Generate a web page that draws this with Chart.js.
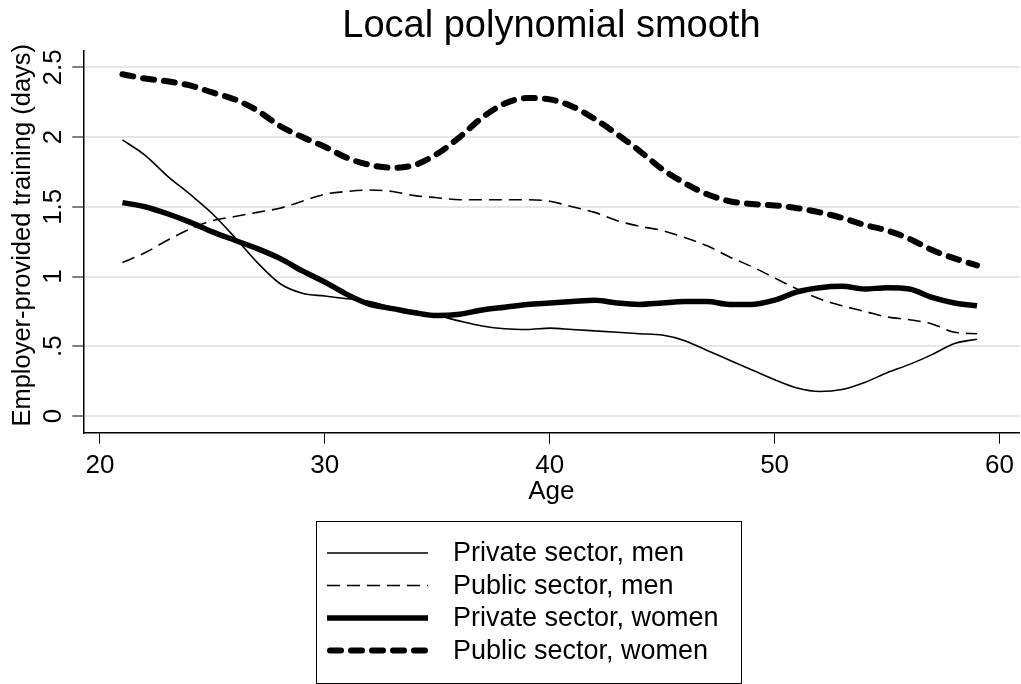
<!DOCTYPE html>
<html>
<head>
<meta charset="utf-8">
<title>Local polynomial smooth</title>
<script src="https://cdn.jsdelivr.net/npm/chart.js@4.4.1/dist/chart.umd.min.js"></script>
<style>
  html, body { margin: 0; padding: 0; background: #fff; }
  #wrap { width: 1021px; height: 684px; }
</style>
</head>
<body>
<div id="wrap"><canvas id="myChart" width="1021" height="684"></canvas></div>
<script>
// values, one per year of age
const ages = [21, 22, 23, 24, 25, 26, 27, 28, 29, 30, 31, 32, 33, 34, 35, 36, 37, 38, 39, 40,
              41, 42, 43, 44, 45, 46, 47, 48, 49, 50, 51, 52, 53, 54, 55, 56, 57, 58, 59];
const privateMen = [1.98, 1.87, 1.72, 1.59, 1.45, 1.28, 1.10, 0.95, 0.88, 0.86, 0.84, 0.82, 0.78, 0.75, 0.72, 0.68, 0.645, 0.625, 0.62, 0.63,
                    0.62, 0.61, 0.60, 0.59, 0.58, 0.54, 0.47, 0.40, 0.33, 0.26, 0.20, 0.175, 0.19, 0.24, 0.31, 0.37, 0.44, 0.52, 0.55];
const publicMen = [1.10, 1.17, 1.26, 1.34, 1.40, 1.43, 1.46, 1.49, 1.54, 1.59, 1.61, 1.62, 1.61, 1.58, 1.565, 1.55, 1.55, 1.55, 1.55, 1.54,
                   1.50, 1.46, 1.40, 1.36, 1.33, 1.28, 1.22, 1.14, 1.07, 0.99, 0.91, 0.84, 0.79, 0.75, 0.71, 0.69, 0.66, 0.60, 0.59];
const privateWomen = [1.53, 1.50, 1.45, 1.39, 1.32, 1.26, 1.20, 1.13, 1.04, 0.96, 0.87, 0.80, 0.77, 0.74, 0.72, 0.73, 0.76, 0.78, 0.80, 0.81,
                      0.82, 0.83, 0.81, 0.80, 0.81, 0.82, 0.82, 0.80, 0.80, 0.83, 0.89, 0.92, 0.93, 0.91, 0.92, 0.91, 0.85, 0.81, 0.79];
const publicWomen = [2.45, 2.42, 2.40, 2.37, 2.32, 2.27, 2.19, 2.08, 2.00, 1.93, 1.85, 1.80, 1.78, 1.80, 1.88, 2.00, 2.14, 2.24, 2.28, 2.27,
                     2.22, 2.13, 2.02, 1.90, 1.77, 1.67, 1.59, 1.54, 1.52, 1.51, 1.49, 1.46, 1.42, 1.37, 1.33, 1.27, 1.19, 1.13, 1.08];
const seriesNames = ['Private sector, men', 'Public sector, men', 'Private sector, women', 'Public sector, women'];
const xTicks = [20, 30, 40, 50, 60];
const yTicks = [0, 0.5, 1, 1.5, 2, 2.5];

const FONT = '"Liberation Sans", Arial, Helvetica, sans-serif';

function toPoints(vals) {
    return ages.map((a, i) => ({ x: a, y: vals[i] }));
}

// legend drawn as a framed box under the plot, one entry per row
const boxLegend = {
    id: 'boxLegend',
    afterDraw(chart) {
        const ctx = chart.ctx;
        const x0 = 316, y0 = 521, w = 425, h = 162;
        ctx.save();
        ctx.strokeStyle = '#000';
        ctx.lineWidth = 1;
        ctx.strokeRect(x0 + 0.5, y0 + 0.5, w, h);
        ctx.font = '27px ' + FONT;
        ctx.textBaseline = 'middle';
        ctx.textAlign = 'left';
        chart.data.datasets.forEach((ds, i) => {
            const y = y0 + 32 + i * 32.5;
            const round = ds.borderCapStyle === 'round';
            const inset = round ? ds.borderWidth / 2 : 0;
            ctx.beginPath();
            ctx.strokeStyle = ds.borderColor;
            ctx.lineWidth = ds.borderWidth;
            ctx.lineCap = ds.borderCapStyle || 'butt';
            ctx.setLineDash(ds.borderDash || []);
            ctx.moveTo(x0 + 11 + inset, y);
            ctx.lineTo(x0 + 112 - inset, y);
            ctx.stroke();
            ctx.setLineDash([]);
            ctx.fillStyle = '#000';
            ctx.fillText(ds.label, x0 + 137, y + 1);
        });
        ctx.restore();
    }
};

const ctx = document.getElementById('myChart').getContext('2d');
new Chart(ctx, {
    type: 'line',
    data: {
        datasets: [
            { label: seriesNames[0], data: toPoints(privateMen), borderColor: '#000', borderWidth: 1.6 },
            { label: seriesNames[1], data: toPoints(publicMen), borderColor: '#000', borderWidth: 1.6, borderDash: [13, 7] },
            { label: seriesNames[2], data: toPoints(privateWomen), borderColor: '#000', borderWidth: 5.5 },
            { label: seriesNames[3], data: toPoints(publicWomen), borderColor: '#000', borderWidth: 6,
              borderDash: [11, 10], borderCapStyle: 'round' }
        ]
    },
    options: {
        responsive: false,
        devicePixelRatio: 1,
        animation: false,
        layout: { padding: { top: 0, right: 0, bottom: 177, left: 0 } },
        elements: {
            point: { radius: 0 },
            line: { cubicInterpolationMode: 'monotone', fill: false }
        },
        plugins: {
            legend: { display: false },
            tooltip: { enabled: false },
            title: {
                display: true,
                text: 'Local polynomial smooth',
                color: '#000',
                fullSize: false,
                font: { family: FONT, size: 38, weight: 'normal' },
                padding: { top: 4, bottom: 1 }
            }
        },
        scales: {
            x: {
                type: 'linear',
                min: 19.26,
                max: 60.89,
                afterBuildTicks: s => { s.ticks = xTicks.map(v => ({ value: v })); },
                afterFit: s => { s.height = 74.3; },
                border: { color: '#000', width: 1.5 },
                grid: { drawOnChartArea: false, tickColor: '#000', tickLength: 11, tickWidth: 1 },
                ticks: { color: '#000', padding: 7, font: { family: FONT, size: 26 }, maxRotation: 0 },
                title: { display: true, text: 'Age', color: '#000', padding: 0, font: { family: FONT, size: 26 } }
            },
            y: {
                min: -0.12,
                max: 2.62,
                afterBuildTicks: s => { s.ticks = yTicks.map(v => ({ value: v })); },
                afterFit: s => { s.width = 83.3; },
                border: { color: '#000', width: 1.5 },
                grid: { color: '#e6e6e6', lineWidth: 2, tickColor: '#000', tickLength: 11, tickWidth: 1 },
                ticks: {
                    color: '#000',
                    minRotation: 90,
                    maxRotation: 90,
                    crossAlign: 'center',
                    padding: 0,
                    font: { family: FONT, size: 26 },
                    callback: v => String(v).replace(/^0\./, '.')
                },
                title: { display: true, text: '\u2002Employer-provided training (days)', color: '#000',
                         padding: { top: 8 }, font: { family: FONT, size: 25.5 } }
            }
        }
    },
    plugins: [boxLegend]
});
</script>
</body>
</html>
